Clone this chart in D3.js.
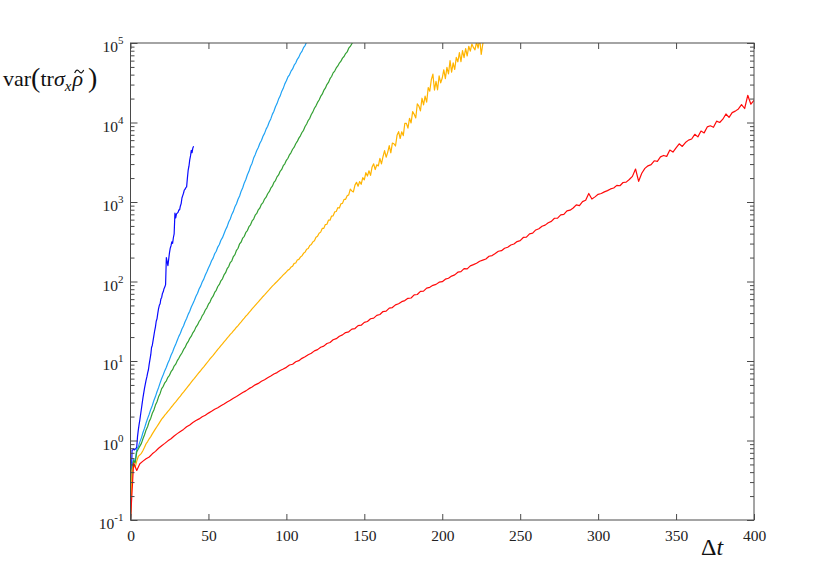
<!DOCTYPE html>
<html><head><meta charset="utf-8">
<script src="https://cdn.jsdelivr.net/npm/d3@7"></script>
<style>body{margin:0;background:#fff}</style>
</head><body><svg id="c" width="830" height="585"></svg>
<script>
// ---- data (Δt sampling step + var values) ----
const blueStep = 0.5;
const blueVals = [0.1,0.32,0.76,0.76,0.78,0.76,0.78,0.79,0.83,1.12,
1.35,1.58,1.82,2.14,2.51,2.95,3.47,3.98,4.57,5.13,
5.75,6.31,7.08,7.76,9.12,10.5,12.0,14.8,15.8,18.2,
20.9,24.0,26.9,31.6,33.9,39.8,45.7,50.1,52.5,60.3,
63.1,70.8,74.1,81.3,85.1,91.2,200,178,158,191,
229,263,282,316,302,355,398,724,631,708,
724,741,794,794,891,955,1122,1202,1288,1413,
1445,1514,1549,1995,2512,2818,3388,3802,4467,4169,
4786,5012];

const lightBlueStep = 1;
const lightBlueVals = [0.1,0.5,0.58,0.55,0.78,0.83,0.96,1.08,1.26,1.43,
1.66,1.90,2.14,2.46,2.76,3.18,3.57,4.10,4.62,5.30,
6.03,6.70,7.56,8.34,9.42,10.4,11.8,13.0,14.7,16.2,
18.2,20.4,22.3,25.3,27.6,31.2,34.2,38.6,42.2,47.7,
52.5,58.0,65.1,71.2,80.3,87.5,98.6,107,121,133,
148,162,182,197,223,240,271,292,330,356,
398,448,490,560,612,698,762,870,950,1085,
1190,1370,1510,1740,1920,2200,2430,2800,3080,3570,
3940,4450,4840,5480,5950,6720,7300,8260,8960,10150,
11100,12650,13850,15800,17300,19700,21500,24600,26900,30600,
33500,37400,39800,44300,47200,52600,56000,62400,66400,73800,
78500,87400,92800,103000];

const greenStep = 1;
const greenVals = [0.1,0.45,0.56,0.52,0.72,0.78,0.85,0.92,1.05,1.18,
1.36,1.50,1.74,1.91,2.20,2.42,2.79,3.07,3.54,3.91,
4.50,4.80,5.31,5.63,6.24,6.61,7.33,7.77,8.64,9.13,
10.1,10.8,11.8,12.6,13.9,14.8,16.4,17.5,19.3,20.5,
22.6,24.1,26.7,28.4,31.4,33.4,37.1,39.5,43.8,46.7,
51.8,55.1,61.5,65.3,72.9,77.5,86.5,91.8,102,108,
121,129,145,154,173,182,206,218,247,262,
298,314,352,370,414,437,489,516,578,610,
683,718,798,840,934,982,1090,1150,1270,1350,
1490,1580,1760,1860,2070,2190,2430,2570,2860,3020,
3340,3550,3920,4180,4610,4900,5400,5780,6360,6800,
7480,7980,8890,9580,10600,11300,12600,13600,15100,16200,
17900,19200,21300,22700,25300,27000,30000,31900,35600,37900,
42100,44400,48600,51500,56000,59100,64500,67600,73600,77200,
86000,90500,98000,106000];

const orangeStep = 1;
const orangeVals = [0.1,0.42,0.5,0.46,0.55,0.63,0.66,0.69,0.75,0.82,
0.91,0.97,1.05,1.12,1.21,1.30,1.40,1.50,1.61,1.73,
1.86,1.96,2.08,2.19,2.33,2.45,2.60,2.74,2.91,3.06,
3.24,3.43,3.62,3.85,4.06,4.31,4.55,4.83,5.10,5.42,
5.75,6.06,6.42,6.77,7.17,7.56,8.02,8.45,8.96,9.45,
10.0,10.6,11.2,11.8,12.5,13.2,14.0,14.7,15.6,16.4,
17.4,18.3,19.4,20.4,21.6,22.6,23.9,25.1,26.6,27.9,
29.5,31.1,32.9,34.6,36.6,38.4,40.7,42.7,45.3,47.5,
50.1,52.8,55.4,58.5,61.3,64.8,67.9,71.6,75.2,79.0,
83.2,87.5,91.2,95.8,100,105,110,115,121,126,
132,139,143,152,156,169,171,186,190,203,
210,226,234,254,260,284,292,315,326,360,
372,404,418,465,466,520,525,590,590,665,
670,750,760,850,840,950,960,1080,1080,1200,
1230,1450,1380,1340,1630,1770,1580,1810,1670,2020,
1900,2340,2120,2470,2160,2760,3020,2560,2940,2840,
3540,3010,3720,4430,3660,4210,5130,4160,5500,5400,
5060,6900,7680,6290,7650,6840,9790,9740,8500,11300,
9860,13700,12700,11400,17200,16100,14000,20200,16700,21500,
18000,27500,24800,34700,40600,25600,32900,25800,38700,31500,
36300,46100,35700,49300,40800,59900,43000,56200,46400,65800,
58000,75600,58200,80000,65500,85300,68600,90900,78900,96900,
88000,82000,103000,86000,113000,72000,97000,123000];

const redStep = 2;
const redVals = [0.1,
0.52,0.42,0.51,0.55,0.59, 0.62,0.68,0.73,0.80,0.86,
0.92,0.99,1.05,1.14,1.22, 1.30,1.38,1.49,1.57,1.68,
1.78,1.87,1.99,2.08,2.21, 2.33,2.47,2.58,2.74,2.88,
3.05,3.20,3.40,3.57,3.78, 4.01,4.21,4.49,4.71,5.01,
5.23,5.55,5.80,6.15,6.46, 6.85,7.15,7.60,7.92,8.32,
8.9,9.1,9.8,10.1,10.8, 11.3,12.0,12.5,13.4,13.9,
14.9,15.4,16.6,17.1,18.5, 19.1,20.5,21.3,22.8,23.3,
25.2,25.6,27.9,28.2,30.6, 31.4,34.0,34.6,37.5,38.5,
41.9,42.4,46.3,47.0,50.8, 52.5,55.8,57.5,61.4,62.0,
68.0,68.6,75.0,75.8,82.5, 84.5,89.5,92.0,98.0,99.5,
107,110,117,121,131, 133,145,144,157,163,
170,180,186,192,208, 212,225,240,244,262,
270,288,296,318,326, 358,362,398,405,445,
460,495,512,548,570, 625,628,690,700,775,
790,840,920,900,1010, 1050,1280,1090,1160,1250,
1280,1340,1390,1460,1500, 1620,1600,1760,1780,1920,
2100,2600,1820,2300,2650, 2850,2950,3300,3250,3700,
3850,3750,4500,4250,4800, 5400,5000,5600,6000,6200,
7100,6600,7800,7400,8800, 9100,8700,10400,10000,11000,
12800,11600,13300,13900,14800, 16800,15000,22000,17000,19000];

const seriesColors = ["#0a0aff","#1ea2f5","#33a033","#ffb400","#ff0a0a"];
const xTicks = [0,50,100,150,200,250,300,350,400];
const yTicks = [0.1,1,10,100,1000,10000,100000];
const yExps = ["-1","0","1","2","3","4","5"];

// ---- chart ----
const P={l:130.5,r:754,t:43,b:520};
const svg=d3.select("#c");
const x=d3.scaleLinear().domain([0,400]).range([P.l,P.r]);
const y=d3.scaleLog().domain([0.1,1e5]).range([P.b,P.t]);
const font="'Liberation Serif','Times New Roman',serif";
const axisCol="#4a4a4a";

const minor=[];
for(let e=-1;e<5;e++) for(let k=2;k<=9;k++) minor.push(k*Math.pow(10,e));

svg.append("clipPath").attr("id","clip").append("rect")
  .attr("x",P.l).attr("y",P.t).attr("width",P.r-P.l).attr("height",P.b-P.t);

const data=[
  {s:blueStep,v:blueVals},{s:lightBlueStep,v:lightBlueVals},
  {s:greenStep,v:greenVals},{s:orangeStep,v:orangeVals},{s:redStep,v:redVals}];
const line=d3.line().x(d=>x(d[0])).y(d=>y(d[1]));
const g=svg.append("g").attr("clip-path","url(#clip)");
data.forEach((d,i)=>{
  const pts=d.v.map((v,j)=>[j*d.s,v]);
  g.append("path").attr("d",line(pts)).attr("fill","none")
   .attr("stroke",seriesColors[i]).attr("stroke-width",1.2)
   .attr("stroke-linejoin","round");
});

function style(sel){
  sel.select(".domain").remove();
  sel.selectAll(".tick line").attr("stroke",axisCol).attr("stroke-width",1);
  sel.selectAll("text").attr("font-family",font).attr("font-size",15.5).attr("fill","#222");
}
svg.append("g").attr("transform",`translate(0,${P.b})`)
  .call(d3.axisBottom(x).tickValues(xTicks).tickSizeInner(-6).tickSizeOuter(0).tickPadding(10).tickFormat(d3.format("d")))
  .call(style).call(s=>s.selectAll("text").attr("dy","0.72em"));
svg.append("g").attr("transform",`translate(0,${P.t})`)
  .call(d3.axisTop(x).tickValues(xTicks).tickSizeInner(-6).tickSizeOuter(0).tickFormat(""))
  .call(style);
svg.append("g").attr("transform",`translate(${P.l},0)`)
  .call(d3.axisLeft(y).tickValues(yTicks).tickSizeInner(-7).tickSizeOuter(0).tickFormat(""))
  .call(style);
svg.append("g").attr("transform",`translate(${P.l},0)`)
  .call(d3.axisLeft(y).tickValues(minor).tickSizeInner(-4).tickSizeOuter(0).tickFormat(""))
  .call(style);
svg.append("g").attr("transform",`translate(${P.r},0)`)
  .call(d3.axisRight(y).tickValues(yTicks).tickSizeInner(-7).tickSizeOuter(0).tickFormat(""))
  .call(style);
svg.append("g").attr("transform",`translate(${P.r},0)`)
  .call(d3.axisRight(y).tickValues(minor).tickSizeInner(-4).tickSizeOuter(0).tickFormat(""))
  .call(style);
yTicks.forEach((t,i)=>{
  const tx=svg.append("text").attr("x",P.l-7).attr("y",y(t)+9)
    .attr("text-anchor","end").attr("font-family",font).attr("font-size",15.5).attr("fill","#222");
  tx.append("tspan").text("10");
  tx.append("tspan").attr("dy",-8).attr("font-size",11).text(yExps[i]);
});
svg.append("rect").attr("x",P.l).attr("y",P.t).attr("width",P.r-P.l).attr("height",P.b-P.t)
  .attr("fill","none").attr("stroke",axisCol).attr("stroke-width",1);

// y title
const yt=svg.append("text").attr("x",3).attr("y",86).attr("font-family",font).attr("font-size",22).attr("fill","#111");
yt.append("tspan").text("var");
yt.append("tspan").attr("font-size",28).attr("dy",1).text("(");
yt.append("tspan").attr("dy",-1).text("tr");
yt.append("tspan").attr("font-style","italic").text("σ");
yt.append("tspan").attr("font-style","italic").attr("font-size",15).attr("dy",5).text("x");
const rho=yt.append("tspan").attr("font-style","italic").attr("dy",-5).attr("dx",1).text("ρ");
yt.append("tspan").attr("font-size",28).attr("dy",1).attr("dx",5).text(")");
let cx=88;
try{
  const n=rho.node();
  const p=n.getStartPositionOfChar(0), w=n.getComputedTextLength();
  cx=p.x+w/2+1.5;
}catch(e){}
svg.append("path")
  .attr("d",`M${cx-4.5},73 C${cx-3},69.5 ${cx-1.5},69.5 ${cx},71.5 S${cx+3},73.5 ${cx+4.5},70`)
  .attr("fill","none").attr("stroke","#111").attr("stroke-width",1.2);

// x title
const xt=svg.append("text").attr("x",701).attr("y",555).attr("font-family",font).attr("font-size",24).attr("fill","#111");
xt.append("tspan").text("Δ");
xt.append("tspan").attr("font-style","italic").text("t");
</script></body></html>
